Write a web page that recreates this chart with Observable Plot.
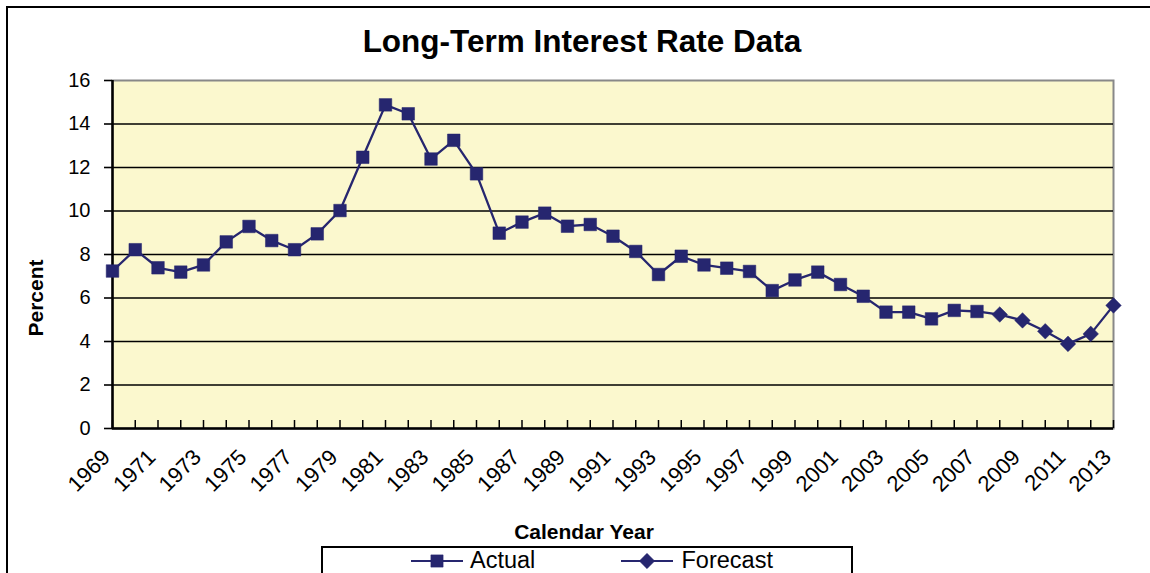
<!DOCTYPE html>
<html><head><meta charset="utf-8">
<script src="https://cdn.jsdelivr.net/npm/d3@7"></script>
<script src="https://cdn.jsdelivr.net/npm/@observablehq/plot@0.6"></script>
<style>
html,body{margin:0;padding:0;background:#fff;}
body{width:1150px;height:573px;overflow:hidden;position:relative;font-family:"Liberation Sans",Arial,sans-serif;color:#000;}
#frame{position:absolute;left:6px;top:6px;width:1180px;height:640px;border:2.5px solid #000;box-sizing:border-box;}
#chart{position:absolute;left:0;top:0;}
.t{position:absolute;line-height:1;white-space:nowrap;}
#title{left:0;width:1164px;top:26px;text-align:center;font-weight:bold;font-size:31.5px;}
#xlabel{left:0;width:1168px;top:521.2px;text-align:center;font-weight:bold;font-size:21px;}
#ylabel{left:35px;top:298px;font-weight:bold;font-size:21px;transform:translate(-50%,-50%) rotate(-90deg);}
#legend{position:absolute;left:321px;top:546px;width:532px;height:80px;border:2px solid #000;box-sizing:border-box;}
.sw{position:absolute;overflow:visible;}
.lt{font-size:23.5px;top:549px;line-height:23px;}
</style>
</head><body>
<div id="frame"></div>
<div id="chart"></div>
<div class="t" id="title">Long-Term Interest Rate Data</div>
<div class="t" id="ylabel">Percent</div>
<div class="t" id="xlabel">Calendar Year</div>
<div id="legend"></div>
<svg class="sw" id="swA" style="left:405px;top:548px" width="64" height="26"></svg>
<div class="t lt" style="left:470px">Actual</div>
<svg class="sw" id="swF" style="left:615px;top:548px" width="64" height="26"></svg>
<div class="t lt" style="left:681.5px">Forecast</div>
<script>
// ---- data ----
const actualYears = [1969,1970,1971,1972,1973,1974,1975,1976,1977,1978,1979,1980,1981,1982,1983,1984,1985,1986,1987,1988,1989,1990,1991,1992,1993,1994,1995,1996,1997,1998,1999,2000,2001,2002,2003,2004,2005,2006,2007];
const actualRate = [7.24,8.22,7.39,7.19,7.52,8.58,9.29,8.64,8.22,8.95,10.02,12.47,14.88,14.47,12.39,13.25,11.71,8.98,9.49,9.90,9.30,9.38,8.84,8.14,7.08,7.92,7.52,7.37,7.22,6.34,6.83,7.19,6.62,6.08,5.35,5.35,5.04,5.43,5.38];
const forecastYears = [2008,2009,2010,2011,2012,2013];
const forecastRate = [5.24,4.97,4.47,3.89,4.35,5.66];
const xTickLabels = [1969,1971,1973,1975,1977,1979,1981,1983,1985,1987,1989,1991,1993,1995,1997,1999,2001,2003,2005,2007,2009,2011,2013];
const yTicks = [0,2,4,6,8,10,12,14,16];
const seriesNames = ["Actual","Forecast"];

// ---- build tables ----
const actual = actualYears.map((year,i)=>({year, rate: actualRate[i], series: seriesNames[0]}));
const forecast = forecastYears.map((year,i)=>({year, rate: forecastRate[i], series: seriesNames[1]}));
const forecastLine = [actual[actual.length-1], ...forecast];
const allYears = actualYears.concat(forecastYears);
const gridTicks = yTicks.slice(1, -1);

const navy = "#26266f";
const bg = "#fbf8ce";
const H = 500, MT = 80, MB = 72;

const chart = Plot.plot({
  width: 1150, height: H,
  marginLeft: 112, marginRight: 37, marginTop: MT, marginBottom: MB,
  x: {domain: [allYears[0], allYears[allYears.length-1]]},
  y: {domain: [yTicks[0], yTicks[yTicks.length-1]]},
  style: {fontFamily: '"Liberation Sans", Arial, sans-serif', fontSize: "20px", color: "#000", background: "transparent", overflow: "visible"},
  marks: [
    Plot.frame({fill: bg, stroke: "#888", strokeWidth: 2}),
    Plot.gridY(gridTicks, {stroke: "#000", strokeOpacity: 1, strokeWidth: 1.7}),
    // inward x tick marks (8px tall) at every year
    Plot.ruleX(allYears, {x: d => d, insetTop: H - MT - MB - 8, stroke: "#000", strokeWidth: 1.5}),
    Plot.ruleX([allYears[0]], {stroke: "#000", strokeWidth: 2.5}),
    Plot.ruleY([yTicks[0]], {stroke: "#000", strokeWidth: 2.5}),
    Plot.axisY(yTicks, {tickSize: 8, tickPadding: 14, stroke: "#000", strokeWidth: 1.6, fontSize: 20, label: null}),
    Plot.axisX(xTickLabels, {tickSize: 0, tickRotate: -45, tickPadding: 25, dx: -6, fontSize: 22, tickFormat: d => String(d), label: null}),
    Plot.line(actual, {x: "year", y: "rate", stroke: navy, strokeWidth: 2.3}),
    Plot.line(forecastLine, {x: "year", y: "rate", stroke: navy, strokeWidth: 2.3}),
    Plot.dot(forecast, {x: "year", y: "rate", symbol: "diamond2", r: 7, fill: navy, stroke: navy, strokeWidth: 0.5}),
    Plot.dot(actual, {x: "year", y: "rate", symbol: "square", r: 7.1, fill: navy, stroke: navy, strokeWidth: 0.5})
  ]
});
document.getElementById("chart").appendChild(chart);

// legend swatches
function swatch(id, sym){
  const s = d3.select("#" + id);
  s.append("line").attr("x1", 6).attr("x2", 58).attr("y1", 13).attr("y2", 13).attr("stroke", navy).attr("stroke-width", 2.2);
  s.append("path").attr("transform", "translate(32,13)")
    .attr("d", d3.symbol(sym, Math.PI * 6.9 * 6.9)()).attr("fill", navy).attr("stroke", navy).attr("stroke-width", 0.5);
}
swatch("swA", d3.symbolSquare);
swatch("swF", d3.symbolDiamond2);
</script>
</body></html>
